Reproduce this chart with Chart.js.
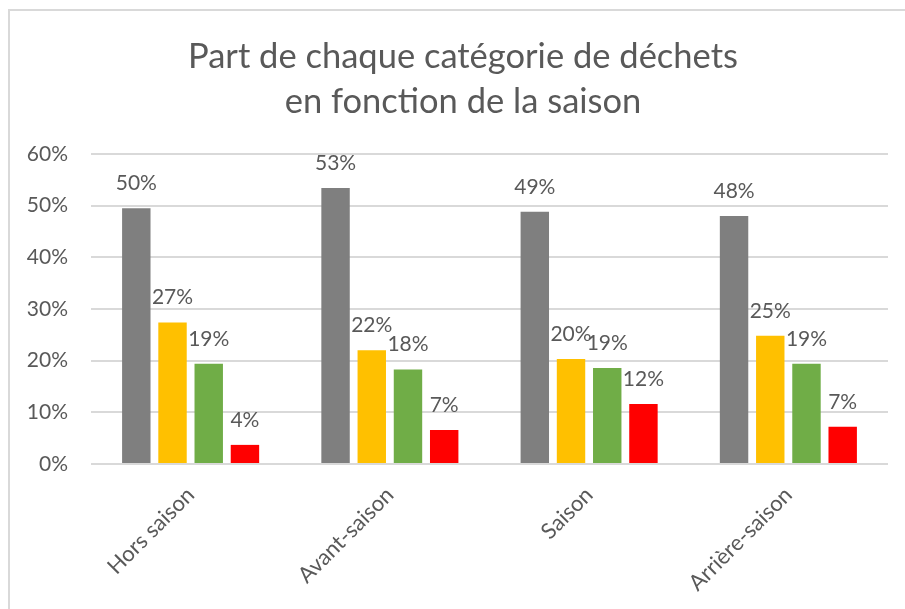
<!DOCTYPE html>
<html lang="fr">
<head>
<meta charset="utf-8">
<title>Part de chaque catégorie de déchets</title>
<script src="https://cdn.jsdelivr.net/npm/chart.js@4.4.1/dist/chart.umd.min.js"></script>
<style>
    html, body { margin: 0; padding: 0; background: #fff; overflow: hidden; }
    #cadre {
        position: absolute; left: 8px; top: 9px;
        width: 940px; height: 640px;
        border: 2px solid #d9d9d9;
    }
    #wrap { position: absolute; left: 0; top: 0; width: 905px; height: 609px; }
</style>
</head>
<body>
<div id="cadre"></div>
<div id="wrap"><canvas id="chart"></canvas></div>
<script>
// données (en %)
const saisons = ['Hors saison', 'Avant-saison', 'Saison', 'Arrière-saison'];
const ordures = [49.5, 53.4, 48.8, 48.0];
const emballages = [27.4, 22.0, 20.3, 24.8];
const verre = [19.4, 18.3, 18.6, 19.4];
const autres = [3.7, 6.6, 11.6, 7.2];
const graduations = [0, 10, 20, 30, 40, 50, 60];

const police = 'Lato';
const gris = '#595959';

// étiquettes de données au-dessus des barres
const etiquettes = {
    id: 'etiquettes',
    afterLayout(chart) {
        // le titre est centré sur le cadre entier, pas sur la zone du graphique
        chart.titleBlock.left = 38;
    },
    afterDatasetsDraw(chart) {
        const ctx = chart.ctx;
        ctx.save();
        ctx.font = '21px ' + police;
        ctx.fillStyle = gris;
        ctx.textAlign = 'center';
        ctx.textBaseline = 'alphabetic';
        chart.data.datasets.forEach((ds, i) => {
            chart.getDatasetMeta(i).data.forEach((bar, j) => {
                ctx.fillText(Math.round(ds.data[j]) + '%', bar.x, bar.y - 18);
            });
        });
        ctx.restore();
    }
};

const ctx = document.getElementById('chart').getContext('2d');
new Chart(ctx, {
    type: 'bar',
    data: {
        labels: saisons,
        datasets: [
            { label: 'Ordures ménagères', data: ordures, backgroundColor: '#7f7f7f' },
            { label: 'Emballages', data: emballages, backgroundColor: '#ffc000' },
            { label: 'Verre', data: verre, backgroundColor: '#70ad47' },
            { label: 'Autres', data: autres, backgroundColor: '#ff0000' }
        ]
    },
    options: {
        responsive: true,
        maintainAspectRatio: false,
        animation: false,
        categoryPercentage: 0.727,
        barPercentage: 0.785,
        layout: {
            padding: { top: 34, right: 17, bottom: 0, left: 0 }
        },
        plugins: {
            legend: { display: false },
            tooltip: { enabled: false },
            title: {
                display: true,
                text: ['Part de chaque catégorie de déchets', 'en fonction de la saison'],
                color: gris,
                font: { family: police, size: 34.5, weight: 'normal', lineHeight: 45 / 34.5 },
                padding: { top: 0, bottom: 30 }
            }
        },
        scales: {
            x: {
                grid: { display: false },
                border: { display: false },
                ticks: {
                    color: gris,
                    font: { family: police, size: 22 },
                    minRotation: 45,
                    maxRotation: 45,
                    padding: 10,
                    labelOffset: 0
                },
                afterFit(scale) { scale.height = 145; }
            },
            y: {
                min: 0,
                max: 60,
                afterBuildTicks(scale) {
                    scale.ticks = graduations.map(v => ({ value: v }));
                },
                grid: { color: '#d9d9d9', lineWidth: 2, drawTicks: false },
                border: { display: false },
                ticks: {
                    color: gris,
                    font: { family: police, size: 21 },
                    padding: 23,
                    callback: v => v + '%'
                },
                afterFit(scale) { scale.width = 91; }
            }
        }
    },
    plugins: [etiquettes]
});
</script>
</body>
</html>
